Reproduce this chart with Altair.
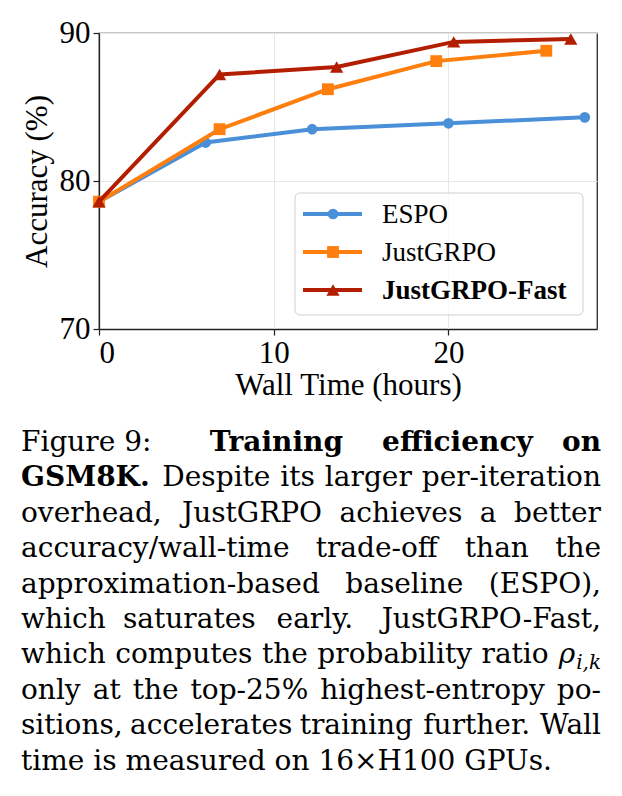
import altair as alt
import pandas as pd

# Accuracy on GSM8K versus wall-clock training time (hours)
espo_hours = [0.0, 6.1, 12.2, 20.0, 27.8]
espo_acc = [78.6, 82.6, 83.5, 83.9, 84.3]
just_hours = [0.0, 6.9, 13.1, 19.3, 25.6]
just_acc = [78.6, 83.5, 86.2, 88.1, 88.8]
fast_hours = [0.0, 6.9, 13.6, 20.3, 27.0]
fast_acc = [78.6, 87.2, 87.7, 89.4, 89.6]

methods = ["ESPO", "JustGRPO", "JustGRPO-Fast"]
x_ticks = [0, 10, 20]
y_ticks = [70, 80, 90]

caption_lines = [
    "Figure~9: *Training *efficiency *on",
    "*GSM8K. Despite its larger per-iteration",
    "overhead, JustGRPO achieves a better",
    "accuracy/wall-time trade-off than the",
    "approximation-based baseline (ESPO),",
    "which saturates early. JustGRPO-Fast,",
    "which computes the probability ratio ρ_i,k",
    "only at the top-25% highest-entropy po-",
    "sitions, accelerates training further. Wall",
    "time is measured on 16×H100 GPUs.",
]

# ---- styling ----
SERIF = "Liberation Serif"
CAP_FONT = "DejaVu Serif"
colors = ["#4A90D9", "#FF7F0E", "#B31E00"]
shapes = ["circle", "square", "triangle-up"]
marker_sizes = [115, 140, 175]
PLOT_W, PLOT_H = 498, 296

x_enc = alt.X(
    "hours:Q",
    scale=alt.Scale(domain=[0, 28.5], nice=False, zero=False),
    axis=alt.Axis(values=x_ticks, title="Wall Time (hours)", format="d",
                  titlePadding=2, labelPadding=3, tickSize=6),
)
y_enc = alt.Y(
    "acc:Q",
    scale=alt.Scale(domain=[70, 90], nice=False, zero=False),
    axis=alt.Axis(values=y_ticks, title="Accuracy (%)", format="d",
                  titlePadding=6, labelPadding=3, tickSize=6),
)

layers = []
for hours, acc, name, color, shape, size in zip(
    [espo_hours, just_hours, fast_hours], [espo_acc, just_acc, fast_acc],
    methods, colors, shapes, marker_sizes,
):
    df = pd.DataFrame({"hours": hours, "acc": acc, "method": name})
    base = alt.Chart(df).encode(x=x_enc, y=y_enc)
    layers.append(base.mark_line(color=color, strokeWidth=4))
    layers.append(base.mark_point(shape=shape, filled=True, size=size,
                                  color=color, opacity=1))

# ---- legend box ----
one = pd.DataFrame({"k": [0]})
layers.append(
    alt.Chart(one).mark_rect(fill="white", fillOpacity=0.8, stroke="#cfcfcf",
                             strokeWidth=1, cornerRadius=5)
    .encode(x=alt.value(196), x2=alt.value(484), y=alt.value(160), y2=alt.value(282))
)
for i, (name, color, shape, size) in enumerate(zip(methods, colors, shapes, marker_sizes)):
    ly = 181 + 38 * i
    src = alt.Chart(pd.DataFrame({"label": [name]}))
    layers.append(src.mark_rule(color=color, strokeWidth=4)
                  .encode(x=alt.value(204), x2=alt.value(263), y=alt.value(ly)))
    layers.append(src.mark_point(shape=shape, filled=True, size=size, color=color, opacity=1)
                  .encode(x=alt.value(234), y=alt.value(ly)))
    layers.append(src.mark_text(align="left", baseline="middle", font=SERIF, fontSize=27,
                                fontWeight="bold" if i == 2 else "normal", color="black")
                  .encode(x=alt.value(283), y=alt.value(ly + 1), text="label:N"))

# ---- justified caption (approximate advance widths, per 1000 em) ----
FS = 28
SUB_FS = 20
REG_W = dict(zip("ABCDEFGHIJKLMNOPQRSTUVWXYZ",
                 [722, 735, 765, 802, 730, 694, 799, 872, 395, 401, 747, 664, 1024,
                  875, 820, 673, 820, 753, 685, 667, 843, 722, 1028, 712, 660, 695]))
REG_W.update(zip("abcdefghijklmnopqrstuvwxyz",
                 [596, 640, 560, 640, 592, 370, 640, 644, 320, 310, 606, 320, 948,
                  644, 602, 640, 640, 478, 513, 402, 644, 565, 856, 564, 565, 523]))
REG_W.update({" ": 318, "%": 950, "(": 390, ")": 390, ",": 318, "-": 338, ".": 318,
              "/": 337, ":": 337, "×": 838})
REG_W.update({d: 636 for d in "0123456789"})
BOLD_W = dict(zip("ABCDEFGHIJKLMNOPQRSTUVWXYZ",
                  [776, 845, 800, 887, 809, 770, 868, 1007, 512, 524, 878, 735, 1151,
                   1003, 866, 812, 866, 861, 721, 766, 958, 776, 1176, 832, 771, 740]))
BOLD_W.update(zip("abcdefghijklmnopqrstuvwxyz",
                  [675, 710, 598, 710, 650, 435, 710, 758, 379, 371, 713, 379, 1119,
                   758, 667, 710, 710, 563, 596, 485, 758, 650, 979, 687, 650, 597]))
BOLD_W.update({" ": 348, ".": 380, ":": 400, ",": 380, "-": 415})
BOLD_W.update({d: 696 for d in "0123456789"})
RHO_W = 0.64 * FS


def text_width(s, table, size):
    return sum(table.get(c, 600) for c in s) * size / 1000


def stretch(prev):
    if prev.endswith(":"):
        return 2.4
    if prev.endswith(".") and prev[-2].islower():
        return 2.0
    if prev.endswith(","):
        return 1.25
    return 1.0


LEFT, RIGHT = -78, 502
TOP, LEAD = 418, 35.4
rows = []
for li, line in enumerate(caption_lines):
    toks = []
    for raw in line.split(" "):
        bold = raw.startswith("*")
        word = raw.lstrip("*").replace("~", " ")
        if "_" in word:
            main, sub = word.split("_")
            w = RHO_W + text_width(sub, REG_W, SUB_FS)
        else:
            w = text_width(word, BOLD_W if bold else REG_W, FS)
        toks.append((word, bold, w))
    base_gap = 0.25 * FS
    weights = [stretch(toks[k][0]) for k in range(len(toks) - 1)]
    justified = li < len(caption_lines) - 1
    if justified:
        free = (RIGHT - LEFT) - sum(t[2] for t in toks) - base_gap * len(weights)
        extra = free / sum(weights)
    else:
        extra = 0.07 * FS
    y = TOP + LEAD * li
    # left edges of each word from the left margin
    lefts = []
    x = LEFT
    for k, (word, bold, w) in enumerate(toks):
        lefts.append(x)
        if k < len(weights):
            x += w + base_gap + weights[k] * extra
    # right edges of each word from the right margin
    rights = []
    x = RIGHT
    for k in range(len(toks) - 1, -1, -1):
        rights.insert(0, x)
        if k > 0:
            x -= toks[k][2] + base_gap + weights[k - 1] * extra
    half = (len(toks) + 1) // 2
    for k, (word, bold, w) in enumerate(toks):
        anchor_right = justified and k >= half
        style = "bold" if bold else "regular"
        if "_" in word:
            main, sub = word.split("_")
            sub_w = text_width(sub, REG_W, SUB_FS)
            r = rights[k] if anchor_right else lefts[k] + w
            rows.append({"w": main, "px": r - sub_w - 1, "py": y, "style": "italic", "al": "right"})
            rows.append({"w": sub, "px": r, "py": y + 6, "style": "sub", "al": "right"})
        elif anchor_right:
            rows.append({"w": word, "px": rights[k], "py": y, "style": style, "al": "right"})
        else:
            rows.append({"w": word, "px": lefts[k], "py": y, "style": style, "al": "left"})

cap = pd.DataFrame(rows)
for style in ["regular", "bold", "italic", "sub"]:
    for al in ["left", "right"]:
        part = cap[(cap["style"] == style) & (cap["al"] == al)]
        if part.empty:
            continue
        layers.append(
            alt.Chart(part).mark_text(
                align=al, baseline="alphabetic", font=CAP_FONT, color="black",
                fontSize=SUB_FS if style == "sub" else FS,
                fontWeight="bold" if style == "bold" else "normal",
                fontStyle="italic" if style in ("italic", "sub") else "normal",
            ).encode(
                x=alt.X("px:Q", scale=None), y=alt.Y("py:Q", scale=None), text="w:N"
            )
        )

chart = (
    alt.layer(*layers)
    .properties(
        width=PLOT_W, height=PLOT_H,
        padding={"left": 99, "top": 33, "right": 25, "bottom": 796 - 33 - PLOT_H},
        autosize=alt.AutoSizeParams(type="none"),
        background="white",
    )
    .configure_view(stroke="#222222", strokeWidth=1.25)
    .configure_axis(
        labelFont=SERIF, titleFont=SERIF, labelFontSize=31, titleFontSize=31,
        titleFontWeight="normal", labelColor="black", titleColor="black",
        domainColor="#222222", domainWidth=1.25, tickColor="#222222", tickWidth=1.25,
        gridColor="#e6e6e6", gridWidth=1,
    )
)

chart.save("out.html", embed_options={"renderer": "svg", "actions": False})
